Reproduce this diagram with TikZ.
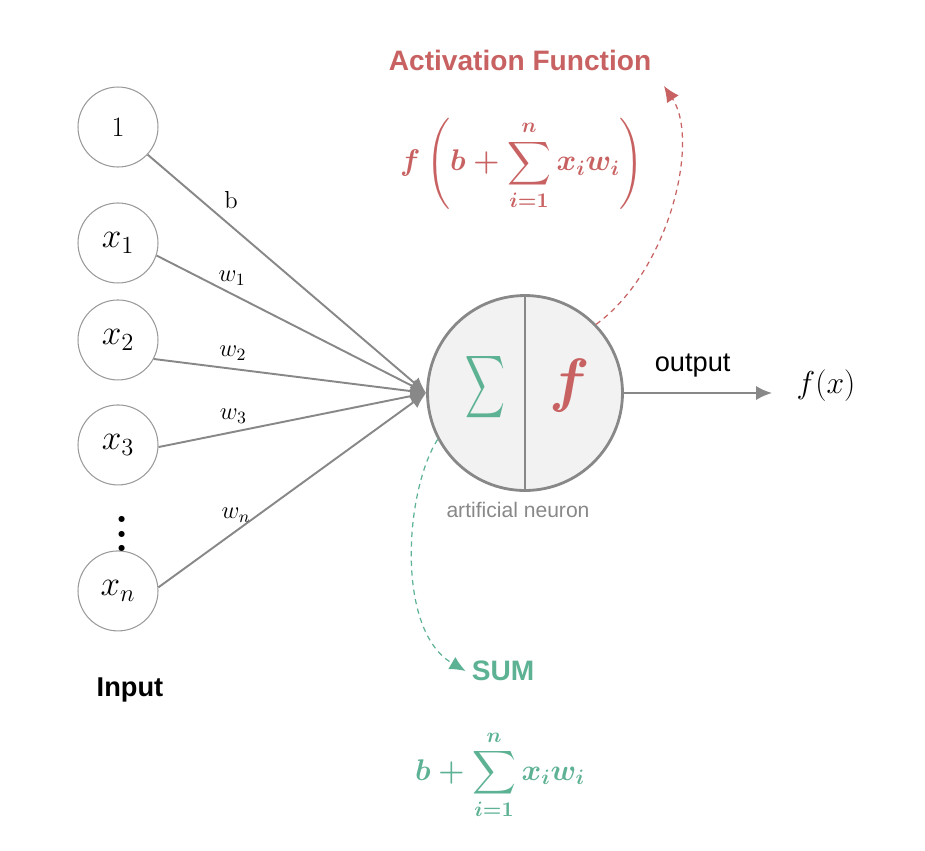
\RequirePackage{fix-cm}
\documentclass[tikz,border=0pt]{standalone}
\usepackage{amsmath}
\usepackage{graphicx}
\usepackage{fontspec}
\setsansfont{Liberation Sans}
\usetikzlibrary{arrows.meta}

\definecolor{actred}{RGB}{200,98,98}
\definecolor{sumgreen}{RGB}{94,178,148}
\definecolor{linegray}{RGB}{136,136,136}
\definecolor{neuronfill}{RGB}{242,242,242}

\tikzset{
  inputnode/.style={draw=linegray!85, circle, line width=0.6pt, minimum size=1.6cm, inner sep=0pt, font=\fontsize{20}{24}\selectfont},
  weight/.style={draw=linegray, line width=1.1pt, ->},
  wlabel/.style={font=\fontsize{14}{17}\selectfont, above=1pt},
  hint/.style={line width=0.7pt, dash pattern=on 3pt off 2.5pt, ->}
}

\begin{document}
\begin{tikzpicture}[x=0.02cm, y=-0.02cm, node distance=2.1cm, >={Latex[length=9pt,width=8pt]}]
    \useasboundingbox (0,0) rectangle (925,850);

    \node (Bias) [inputnode, font=\fontsize{16}{19}\selectfont] at (118,127) {1};
    \node (InputOne) [inputnode, below of=Bias, yshift=-0.22cm] {$x_1$};
    \node (InputTwo) [inputnode, below of=InputOne, yshift=0.16cm] {$x_2$};
    \node (InputThree) [inputnode, below of=InputTwo] {$x_3$};
    \node (InputN) [inputnode, below of=InputThree, yshift=-0.82cm] {$x_n$};
    \node (Dots) [align=center, inner sep=0pt, font=\bfseries\fontsize{24}{8.5}\selectfont] at (122,534) {.\\.\\.};
    \node (InputLabel) [font=\sffamily\bfseries\fontsize{15.5}{18}\selectfont] at (130,690) {Input};

    \node (Neuron) [draw=linegray, fill=neuronfill, circle, line width=1.6pt, minimum size=3.9cm] at (525,393) {};
    \draw[linegray, line width=1.6pt] (Neuron.north) -- (Neuron.south);
    \node (SumSign) [text=sumgreen, font=\fontsize{23}{27}\selectfont] at (485,387) {\scalebox{0.63}[1]{$\displaystyle\sum$}};
    \node (ActSign) [text=actred, font=\fontsize{34}{40}\selectfont] at (570,386) {$\boldsymbol{f}$};
    \node (NeuronLabel) [text=linegray, font=\sffamily\fontsize{12}{14}\selectfont] at (518,510) {artificial neuron};

    \draw[weight] (Bias.-43) -- (Neuron.west) node[wlabel, pos=0.3, above=5pt] {b};
    \draw[weight] (InputOne.-18) -- (Neuron.west) node[wlabel, pos=0.28] {$w_1$};
    \draw[weight] (InputTwo.-28) -- (Neuron.west) node[wlabel, pos=0.29] {$w_2$};
    \draw[weight] (InputThree.-3) -- (Neuron.west) node[wlabel, pos=0.28] {$w_3$};
    \draw[weight] (InputN.5) -- (Neuron.west) node[wlabel, pos=0.29] {$w_n$};

    \node (Output) [font=\fontsize{18}{21}\selectfont] at (826,386) {$f(x)$};
    \coordinate (OutputEnd) at (772,393);
    \draw[weight] (Neuron.east) -- (OutputEnd) node[midway, above=5pt, xshift=-3pt, font=\sffamily\fontsize{15.5}{18}\selectfont] {output};

    \node (ActLabel) [text=actred, font=\sffamily\bfseries\fontsize{16}{19}\selectfont] at (520,60) {Activation Function};
    \node (ActFormula) [text=actred, font=\fontsize{17}{20}\selectfont] at (522,164) {$\boldsymbol{\displaystyle f\left(b+\sum_{i=1}^{n} x_i w_i\right)}$};
    \coordinate (ActTip) at (664,86);
    \draw[hint, actred] (Neuron.44) .. controls (670,270) and (700,140) .. (ActTip);

    \node (SumLabel) [text=sumgreen, font=\sffamily\bfseries\fontsize{16}{19}\selectfont] at (503,671) {SUM};
    \node (SumFormula) [text=sumgreen, font=\fontsize{17}{20}\selectfont] at (500,775) {$\boldsymbol{\displaystyle b+\sum_{i=1}^{n} x_i w_i}$};
    \draw[hint, sumgreen] (Neuron.208) .. controls (405,490) and (395,630) .. (SumLabel.west);
\end{tikzpicture}
\end{document}
